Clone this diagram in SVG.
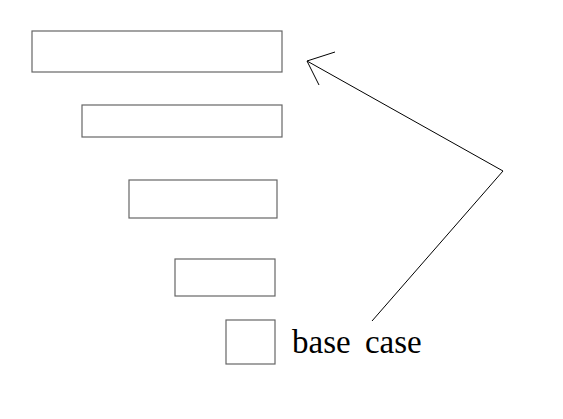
<svg xmlns="http://www.w3.org/2000/svg" width="563" height="419" viewBox="0 0 563 419">
<style>
.box{fill:#fff;stroke:#666;stroke-width:1.2}
.ln{fill:none;stroke:#000;stroke-width:1}
.lbl{font-family:"Liberation Serif",serif;font-size:33px;fill:#000}
</style>
<rect width="563" height="419" fill="#fff"/>
<g id="node1"><rect class="box" x="32" y="31" width="250" height="41"/></g>
<g id="node2"><rect class="box" x="82" y="105" width="200" height="32"/></g>
<g id="node3"><rect class="box" x="129" y="180" width="148" height="38"/></g>
<g id="node4"><rect class="box" x="175" y="259" width="100" height="37"/></g>
<g id="node5"><rect class="box" x="226" y="320" width="49" height="44"/><text class="lbl" x="292" y="353" word-spacing="6">base case</text></g>
<g id="connectors">
<polyline class="ln" points="372,321 503,171 307,61"/>
<polyline class="ln" points="335,52 307,61 319,85"/>
</g>
</svg>
